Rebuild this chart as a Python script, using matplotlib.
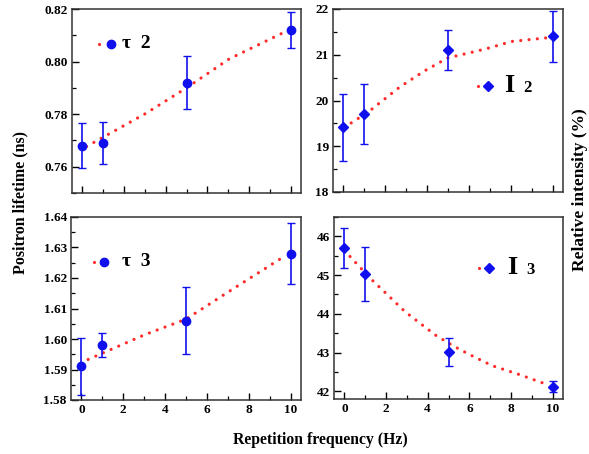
import matplotlib
matplotlib.use("Agg")
import matplotlib.pyplot as plt
from matplotlib.ticker import MultipleLocator, FormatStrFormatter

plt.rcParams['font.family'] = ['Liberation Serif', 'DejaVu Serif']
plt.rcParams['font.weight'] = 'bold'

# Data
freq = [0, 1, 5, 10]
tau2 = [0.768, 0.769, 0.792, 0.812]
tau2_err = [0.0085, 0.008, 0.010, 0.007]
tau3 = [1.591, 1.598, 1.606, 1.628]
tau3_err = [0.0093, 0.004, 0.011, 0.010]
I2 = [19.41, 19.71, 21.10, 21.40]
I2_err = [0.74, 0.66, 0.44, 0.55]
I3 = [45.70, 45.02, 43.01, 42.12]
I3_err = [0.51, 0.70, 0.37, 0.14]

# Fit curves
fit_tau2_x = [0.2, 3.05, 5.0, 7.05, 9.6]
fit_tau2_y = [0.7677, 0.7803, 0.7900, 0.8010, 0.8108]
fit_tau3_x = [0.32, 3.06, 5.0, 6.9, 9.68]
fit_tau3_y = [1.5933, 1.6015, 1.6065, 1.6149, 1.6270]
fit_I2_x = [0.37, 1.16, 2.68, 3.85, 4.98, 6.1, 6.9, 8.03, 9.95]
fit_I2_y = [19.51, 19.74, 20.29, 20.64, 20.93, 21.05, 21.14, 21.29, 21.38]
fit_I3_x = [0.27, 0.63, 1.35, 2.15, 2.9, 3.67, 4.4, 5.2, 6.0, 7.1, 8.3, 9.5, 9.84]
fit_I3_y = [45.48, 45.27, 44.86, 44.45, 44.06, 43.74, 43.44, 43.18, 42.95, 42.66, 42.45, 42.22, 42.15]

W, H = 589, 454
fig = plt.figure(figsize=(W / 100, H / 100), dpi=100)

def add_ax(l, r, t, b):
    return fig.add_axes([l / W, (H - b) / H, (r - l) / W, (b - t) / H])

ax_t2 = add_ax(72, 301, 9, 193)
ax_i2 = add_ax(333, 563, 9, 192)
ax_t3 = add_ax(71, 301, 217, 400)
ax_i3 = add_ax(334, 563, 217, 399)

blue = '#1010ee'
red = '#ff2a2a'
dot_style = (0, (0.01, 2.6))

panels = [
    (ax_t2, tau2, tau2_err, fit_tau2_x, fit_tau2_y, 'o', (0.75, 0.82), 0.02, 0.01, '%.2f'),
    (ax_i2, I2, I2_err, fit_I2_x, fit_I2_y, 'D', (18, 22), 1, 0.5, '%d'),
    (ax_t3, tau3, tau3_err, fit_tau3_x, fit_tau3_y, 'o', (1.58, 1.64), 0.01, 0.005, '%.2f'),
    (ax_i3, I3, I3_err, fit_I3_x, fit_I3_y, 'D', (41.8, 46.5), 1, 0.5, '%d'),
]

for ax, y, e, fx, fy, mk, ylim, maj, mnr, fmt in panels:
    ax.plot(fx, fy, color=red, linestyle=dot_style, linewidth=2.3,
            dash_capstyle='round', zorder=2)
    ms = 6 if mk == 'o' else 5.5
    ax.errorbar(freq, y, yerr=e, fmt=mk, color=blue, ecolor=blue, markersize=ms,
                elinewidth=1.2, capsize=2.8, capthick=1.0, zorder=3)
    ax.set_xlim(-0.5, 10.5)
    ax.set_ylim(*ylim)
    ax.xaxis.set_major_locator(MultipleLocator(2))
    ax.xaxis.set_minor_locator(MultipleLocator(1))
    ax.yaxis.set_major_locator(MultipleLocator(maj))
    ax.yaxis.set_minor_locator(MultipleLocator(mnr))
    ax.yaxis.set_major_formatter(FormatStrFormatter(fmt))
    ax.tick_params(which='both', direction='in', top=False, right=False,
                   labelsize=9.5, pad=3)
    ax.tick_params(which='major', length=5, width=1.0)
    ax.tick_params(which='minor', length=3, width=0.9)
    for s in ax.spines.values():
        s.set_linewidth(1.1)
        s.set_color('#333333')
    for lbl in ax.get_xticklabels() + ax.get_yticklabels():
        lbl.set_fontweight('bold')

for ax in (ax_t2, ax_i2):
    ax.tick_params(labelbottom=False)

# Legends drawn in axes-fraction coordinates
def legend(ax, px_dot, px_marker, py, mk, main, sub, tx, big):
    bb = ax.get_position()
    def fx(p):
        return (p / W - bb.x0) / bb.width
    def fy(p):
        return ((H - p) / H - bb.y0) / bb.height
    ax.plot([fx(px_dot), fx(px_dot + 5)], [fy(py), fy(py)], transform=ax.transAxes,
            color=red, linestyle=dot_style, linewidth=2.3, dash_capstyle='round')
    ax.plot([fx(px_marker)], [fy(py)], transform=ax.transAxes, marker=mk,
            color=blue, markersize=6 if mk == 'o' else 5.5, linestyle='none')
    if big:
        ax.text(fx(tx), fy(py), main, transform=ax.transAxes, fontsize=19,
                fontweight='bold', va='center', ha='left')
        ax.text(fx(tx + 19), fy(py + 2), sub, transform=ax.transAxes, fontsize=12,
                fontweight='bold', va='center', ha='left')
    else:
        ax.text(fx(tx), fy(py), main + '  ' + sub, transform=ax.transAxes,
                fontsize=14, fontweight='bold', va='center', ha='left')

legend(ax_t2, 99, 111, 44, 'o', '\u03c4', '2', 122, False)
legend(ax_i2, 478, 488, 86, 'D', 'I', '2', 504, True)
legend(ax_t3, 94, 104, 262, 'o', '\u03c4', '3', 122, False)
legend(ax_i3, 479, 489, 268, 'D', 'I', '3', 507, True)

fig.text(20 / W, (H - 203) / H, 'Positron lifetime (ns)', rotation=90,
         ha='center', va='center', fontsize=11.5, fontweight='bold')
fig.text(580 / W, (H - 190) / H, 'Relative intensity (%)', rotation=90,
         ha='center', va='center', fontsize=12.5, fontweight='bold')
fig.text(320 / W, (H - 440) / H, 'Repetition frequency (Hz)',
         ha='center', va='center', fontsize=11.3, fontweight='bold')

fig.savefig('out.png', dpi=100)
